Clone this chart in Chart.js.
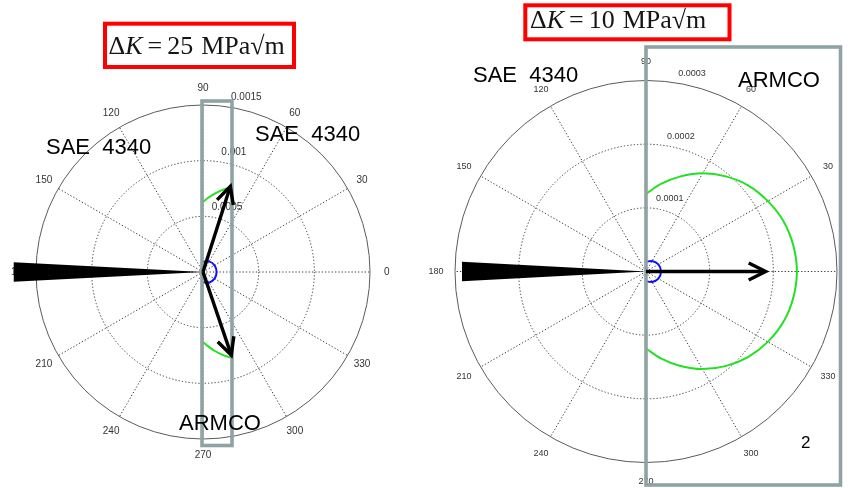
<!DOCTYPE html>
<html>
<head>
<meta charset="utf-8">
<script src="https://cdn.jsdelivr.net/npm/chart.js@4.4.1/dist/chart.umd.min.js"></script>
<style>
html,body{margin:0;padding:0;background:#ffffff;overflow:hidden;}
canvas{display:block;}
</style>
</head>
<body>
<canvas id="c" width="852" height="488"></canvas>
<script>
// ================= DATA =================
// angular tick labels (degrees) shared by both polar plots
const angleTicks = [0, 30, 60, 90, 120, 150, 180, 210, 240, 270, 300, 330];

// ---- left panel: ΔK = 25 MPa√m ----
const leftTitleValue = '25';
const leftRadialTicks = [0.0005, 0.001, 0.0015];
const leftRadialTickLabels = ['0.0005', '0.001', '0.0015'];
const leftGreenUpperAngles = [90, 86, 82, 78, 74, 71];
const leftGreenUpperR = [0.000629, 0.000668, 0.000707, 0.000745, 0.000780, 0.000806];
const leftGreenLowerAngles = [270, 274, 278, 282, 286, 289];
const leftGreenLowerR = [0.000629, 0.000670, 0.000712, 0.000752, 0.000790, 0.000815];
const leftBlueAngles = [90, 60, 30, 0, -30, -60, -90];
const leftBlueR = [0.0000920, 0.000110, 0.000120, 0.000122, 0.000120, 0.000110, 0.0000920];
const leftArrowAngles = [72.3, 288.8];
const leftArrowR = [0.000808, 0.000788];
const leftWedgeAngle = 180;
const leftWedgeLength = 0.00170;
const leftWedgeHalfWidth = 0.0000880;

// ---- right panel: ΔK = 10 MPa√m ----
const rightTitleValue = '10';
const rightRadialTicks = [0.0001, 0.0002, 0.0003];
const rightRadialTickLabels = ['0.0001', '0.0002', '0.0003'];
const rightGreenAngles = [90, 80, 70, 60, 50, 40, 30, 20, 10, 0,
                          -10, -20, -30, -40, -50, -60, -70, -80, -90];
const rightGreenR = [0.000122, 0.000140, 0.000159, 0.000178, 0.000195, 0.000210, 0.000221, 0.000230, 0.000235, 0.000237,
                     0.000235, 0.000230, 0.000221, 0.000209, 0.000194, 0.000177, 0.000158, 0.000139, 0.000121];
const rightBlueAngles = [90, 60, 30, 0, -30, -60, -90];
const rightBlueR = [0.0000152, 0.0000190, 0.0000225, 0.0000235, 0.0000225, 0.0000190, 0.0000152];
const rightArrowAngles = [0];
const rightArrowR = [0.000188];
const rightWedgeAngle = 180;
const rightWedgeLength = 0.000289;
const rightWedgeHalfWidth = 0.0000152;

// annotation texts
const materialA = 'SAE  4340';
const materialB = 'ARMCO';
const panelNumber = '2';

// ================= LAYOUT =================
const W = 852, H = 488;
const L = {cx: 203, cy: 272, R: 167, rmax: 0.0015, x: 'xL', y: 'yL', fs: 10};
const Rp = {cx: 646, cy: 271.5, R: 191, rmax: 0.0003, x: 'xR', y: 'yR', fs: 9};
L.u = L.rmax / L.R;
Rp.u = Rp.rmax / Rp.R;

function polarPts(angles, radii) {
  return angles.map((a, i) => {
    const t = a * Math.PI / 180;
    return {x: radii[i] * Math.cos(t), y: radii[i] * Math.sin(t)};
  });
}

const GREEN = '#22e022';
const BLUE = '#1010ff';
const GRAYBOX = '#8fa3a5';

function lineDs(data, color, xa, ya, w) {
  return {data: data, showLine: true, borderColor: color, borderWidth: w || 2,
    pointRadius: 0, pointHoverRadius: 0, fill: false, tension: 0.35,
    xAxisID: xa, yAxisID: ya};
}

const datasets = [
  lineDs(polarPts(leftGreenUpperAngles, leftGreenUpperR), GREEN, 'xL', 'yL'),
  lineDs(polarPts(leftGreenLowerAngles, leftGreenLowerR), GREEN, 'xL', 'yL'),
  lineDs(polarPts(leftBlueAngles, leftBlueR), BLUE, 'xL', 'yL'),
  lineDs(polarPts(rightGreenAngles, rightGreenR), GREEN, 'xR', 'yR'),
  lineDs(polarPts(rightBlueAngles, rightBlueR), BLUE, 'xR', 'yR'),
];

function toPx(chart, P, r, deg) {
  const t = deg * Math.PI / 180;
  return [chart.scales[P.x].getPixelForValue(r * Math.cos(t)),
          chart.scales[P.y].getPixelForValue(r * Math.sin(t))];
}

function drawGrid(chart, P, ticks, tickLabels) {
  const ctx = chart.ctx;
  const xs = chart.scales[P.x], ys = chart.scales[P.y];
  const c = [xs.getPixelForValue(0), ys.getPixelForValue(0)];
  const rOuter = ticks[ticks.length - 1];
  ctx.save();
  // dotted rings
  ctx.strokeStyle = '#3c3c3c';
  ctx.lineWidth = 1;
  ctx.setLineDash([1.3, 2]);
  ticks.slice(0, -1).forEach(v => {
    const rp = Math.abs(xs.getPixelForValue(v) - c[0]);
    ctx.beginPath(); ctx.arc(c[0], c[1], rp, 0, Math.PI * 2); ctx.stroke();
  });
  // dotted spokes
  angleTicks.forEach(a => {
    const p = toPx(chart, P, rOuter, a);
    ctx.beginPath(); ctx.moveTo(c[0], c[1]); ctx.lineTo(p[0], p[1]); ctx.stroke();
  });
  // outer solid circle
  ctx.setLineDash([]);
  ctx.strokeStyle = '#5a5a5a';
  const ro = Math.abs(xs.getPixelForValue(rOuter) - c[0]);
  ctx.beginPath(); ctx.arc(c[0], c[1], ro, 0, Math.PI * 2); ctx.stroke();
  // angle labels
  ctx.fillStyle = '#333333';
  ctx.font = P.fs + 'px "Liberation Sans", Arial, sans-serif';
  ctx.textAlign = 'center'; ctx.textBaseline = 'middle';
  angleTicks.forEach(a => {
    const p = toPx(chart, P, rOuter * 1.1, a);
    ctx.fillText(String(a), p[0], p[1]);
  });
  // radial labels
  ctx.textAlign = 'left';
  ticks.forEach((v, i) => {
    const p = toPx(chart, P, v, 80);
    ctx.fillText(tickLabels[i], p[0] - 1, p[1] - 10);
  });
  ctx.restore();
}

function drawWedge(chart, P, ang, len, hw) {
  const ctx = chart.ctx;
  const t = ang * Math.PI / 180;
  const nx = -Math.sin(t), ny = Math.cos(t);
  const xs = chart.scales[P.x], ys = chart.scales[P.y];
  const bx = len * Math.cos(t), by = len * Math.sin(t);
  ctx.save();
  ctx.fillStyle = '#000';
  ctx.beginPath();
  ctx.moveTo(xs.getPixelForValue(0), ys.getPixelForValue(0));
  ctx.lineTo(xs.getPixelForValue(bx + nx * hw), ys.getPixelForValue(by + ny * hw));
  ctx.lineTo(xs.getPixelForValue(bx - nx * hw), ys.getPixelForValue(by - ny * hw));
  ctx.closePath(); ctx.fill();
  ctx.restore();
}

function drawArrows(chart, P, angles, radii) {
  const ctx = chart.ctx;
  const xs = chart.scales[P.x], ys = chart.scales[P.y];
  const o = [xs.getPixelForValue(0), ys.getPixelForValue(0)];
  ctx.save();
  ctx.strokeStyle = '#000'; ctx.lineWidth = 3.4;
  ctx.lineCap = 'butt'; ctx.lineJoin = 'miter';
  angles.forEach((a, i) => {
    const tip = toPx(chart, P, radii[i], a);
    const dx = tip[0] - o[0], dy = tip[1] - o[1];
    const d = Math.hypot(dx, dy), ux = dx / d, uy = dy / d;
    ctx.beginPath(); ctx.moveTo(o[0], o[1]); ctx.lineTo(tip[0] - ux * 1.5, tip[1] - uy * 1.5); ctx.stroke();
    const hl = 17, hwid = 8.5;
    ctx.beginPath();
    ctx.moveTo(tip[0] - ux * hl - uy * hwid, tip[1] - uy * hl + ux * hwid);
    ctx.lineTo(tip[0], tip[1]);
    ctx.lineTo(tip[0] - ux * hl + uy * hwid, tip[1] - uy * hl - ux * hwid);
    ctx.stroke();
  });
  ctx.restore();
}

function drawTitle(ctx, x0, base, val) {
  const fs = 26;
  const reg = fs + 'px "Liberation Serif", "Times New Roman", serif';
  const ita = 'italic ' + fs + 'px "Liberation Serif", "Times New Roman", serif';
  ctx.save();
  ctx.fillStyle = '#151515';
  ctx.textBaseline = 'alphabetic'; ctx.textAlign = 'left';
  let x = x0;
  const put = (s, f, gap) => { ctx.font = f; ctx.fillText(s, x, base); x += ctx.measureText(s).width + (gap || 0); };
  put('\u0394', reg, 0);
  put('K', ita, 5);
  put('=', reg, 5);
  put(val, reg, 8);
  put('MPa', reg, 0);
  put('\u221A', reg, 0);
  put('m', reg, 0);
  ctx.restore();
}

const overlay = {
  id: 'overlay',
  beforeDatasetsDraw(chart) {
    drawGrid(chart, L, leftRadialTicks, leftRadialTickLabels);
    drawGrid(chart, Rp, rightRadialTicks, rightRadialTickLabels);
  },
  afterDatasetsDraw(chart) {
    const ctx = chart.ctx;
    drawWedge(chart, L, leftWedgeAngle, leftWedgeLength, leftWedgeHalfWidth);
    drawWedge(chart, Rp, rightWedgeAngle, rightWedgeLength, rightWedgeHalfWidth);
    // gray highlight boxes
    ctx.save();
    ctx.strokeStyle = GRAYBOX; ctx.lineWidth = 3.6;
    ctx.strokeRect(202, 101, 30, 344.5);
    ctx.strokeRect(646, 47, 194.5, 438);
    ctx.restore();
    drawArrows(chart, L, leftArrowAngles, leftArrowR);
    drawArrows(chart, Rp, rightArrowAngles, rightArrowR);
    // material labels
    ctx.save();
    ctx.fillStyle = '#000';
    ctx.textAlign = 'left'; ctx.textBaseline = 'alphabetic';
    ctx.font = '22px "Liberation Sans", Arial, sans-serif';
    ctx.fillText(materialA, 46, 154);
    ctx.fillText(materialA, 255, 140.5);
    ctx.fillText(materialB, 179, 429.5);
    ctx.fillText(materialA, 473, 82);
    ctx.fillText(materialB, 738, 86.5);
    ctx.font = '17px "Liberation Sans", Arial, sans-serif';
    ctx.fillText(panelNumber, 801, 448.3);
    ctx.restore();
    // red title boxes
    ctx.save();
    ctx.strokeStyle = '#ff0000'; ctx.lineWidth = 4;
    ctx.strokeRect(105, 23.7, 189, 43.3);
    ctx.strokeRect(525.3, 5.3, 204.2, 34);
    ctx.restore();
    drawTitle(ctx, 108.5, 54.3, leftTitleValue);
    drawTitle(ctx, 530, 28.3, rightTitleValue);
  }
};

new Chart(document.getElementById('c'), {
  type: 'scatter',
  data: {datasets: datasets},
  options: {
    responsive: false, animation: false, devicePixelRatio: 1,
    layout: {padding: 0},
    plugins: {legend: {display: false}, tooltip: {enabled: false}},
    events: [],
    scales: {
      xL: {type: 'linear', axis: 'x', display: false, min: -L.cx * L.u, max: (W - L.cx) * L.u},
      yL: {type: 'linear', axis: 'y', display: false, min: -(H - L.cy) * L.u, max: L.cy * L.u},
      xR: {type: 'linear', axis: 'x', display: false, min: -Rp.cx * Rp.u, max: (W - Rp.cx) * Rp.u},
      yR: {type: 'linear', axis: 'y', display: false, min: -(H - Rp.cy) * Rp.u, max: Rp.cy * Rp.u}
    }
  },
  plugins: [overlay]
});
</script>
</body>
</html>
